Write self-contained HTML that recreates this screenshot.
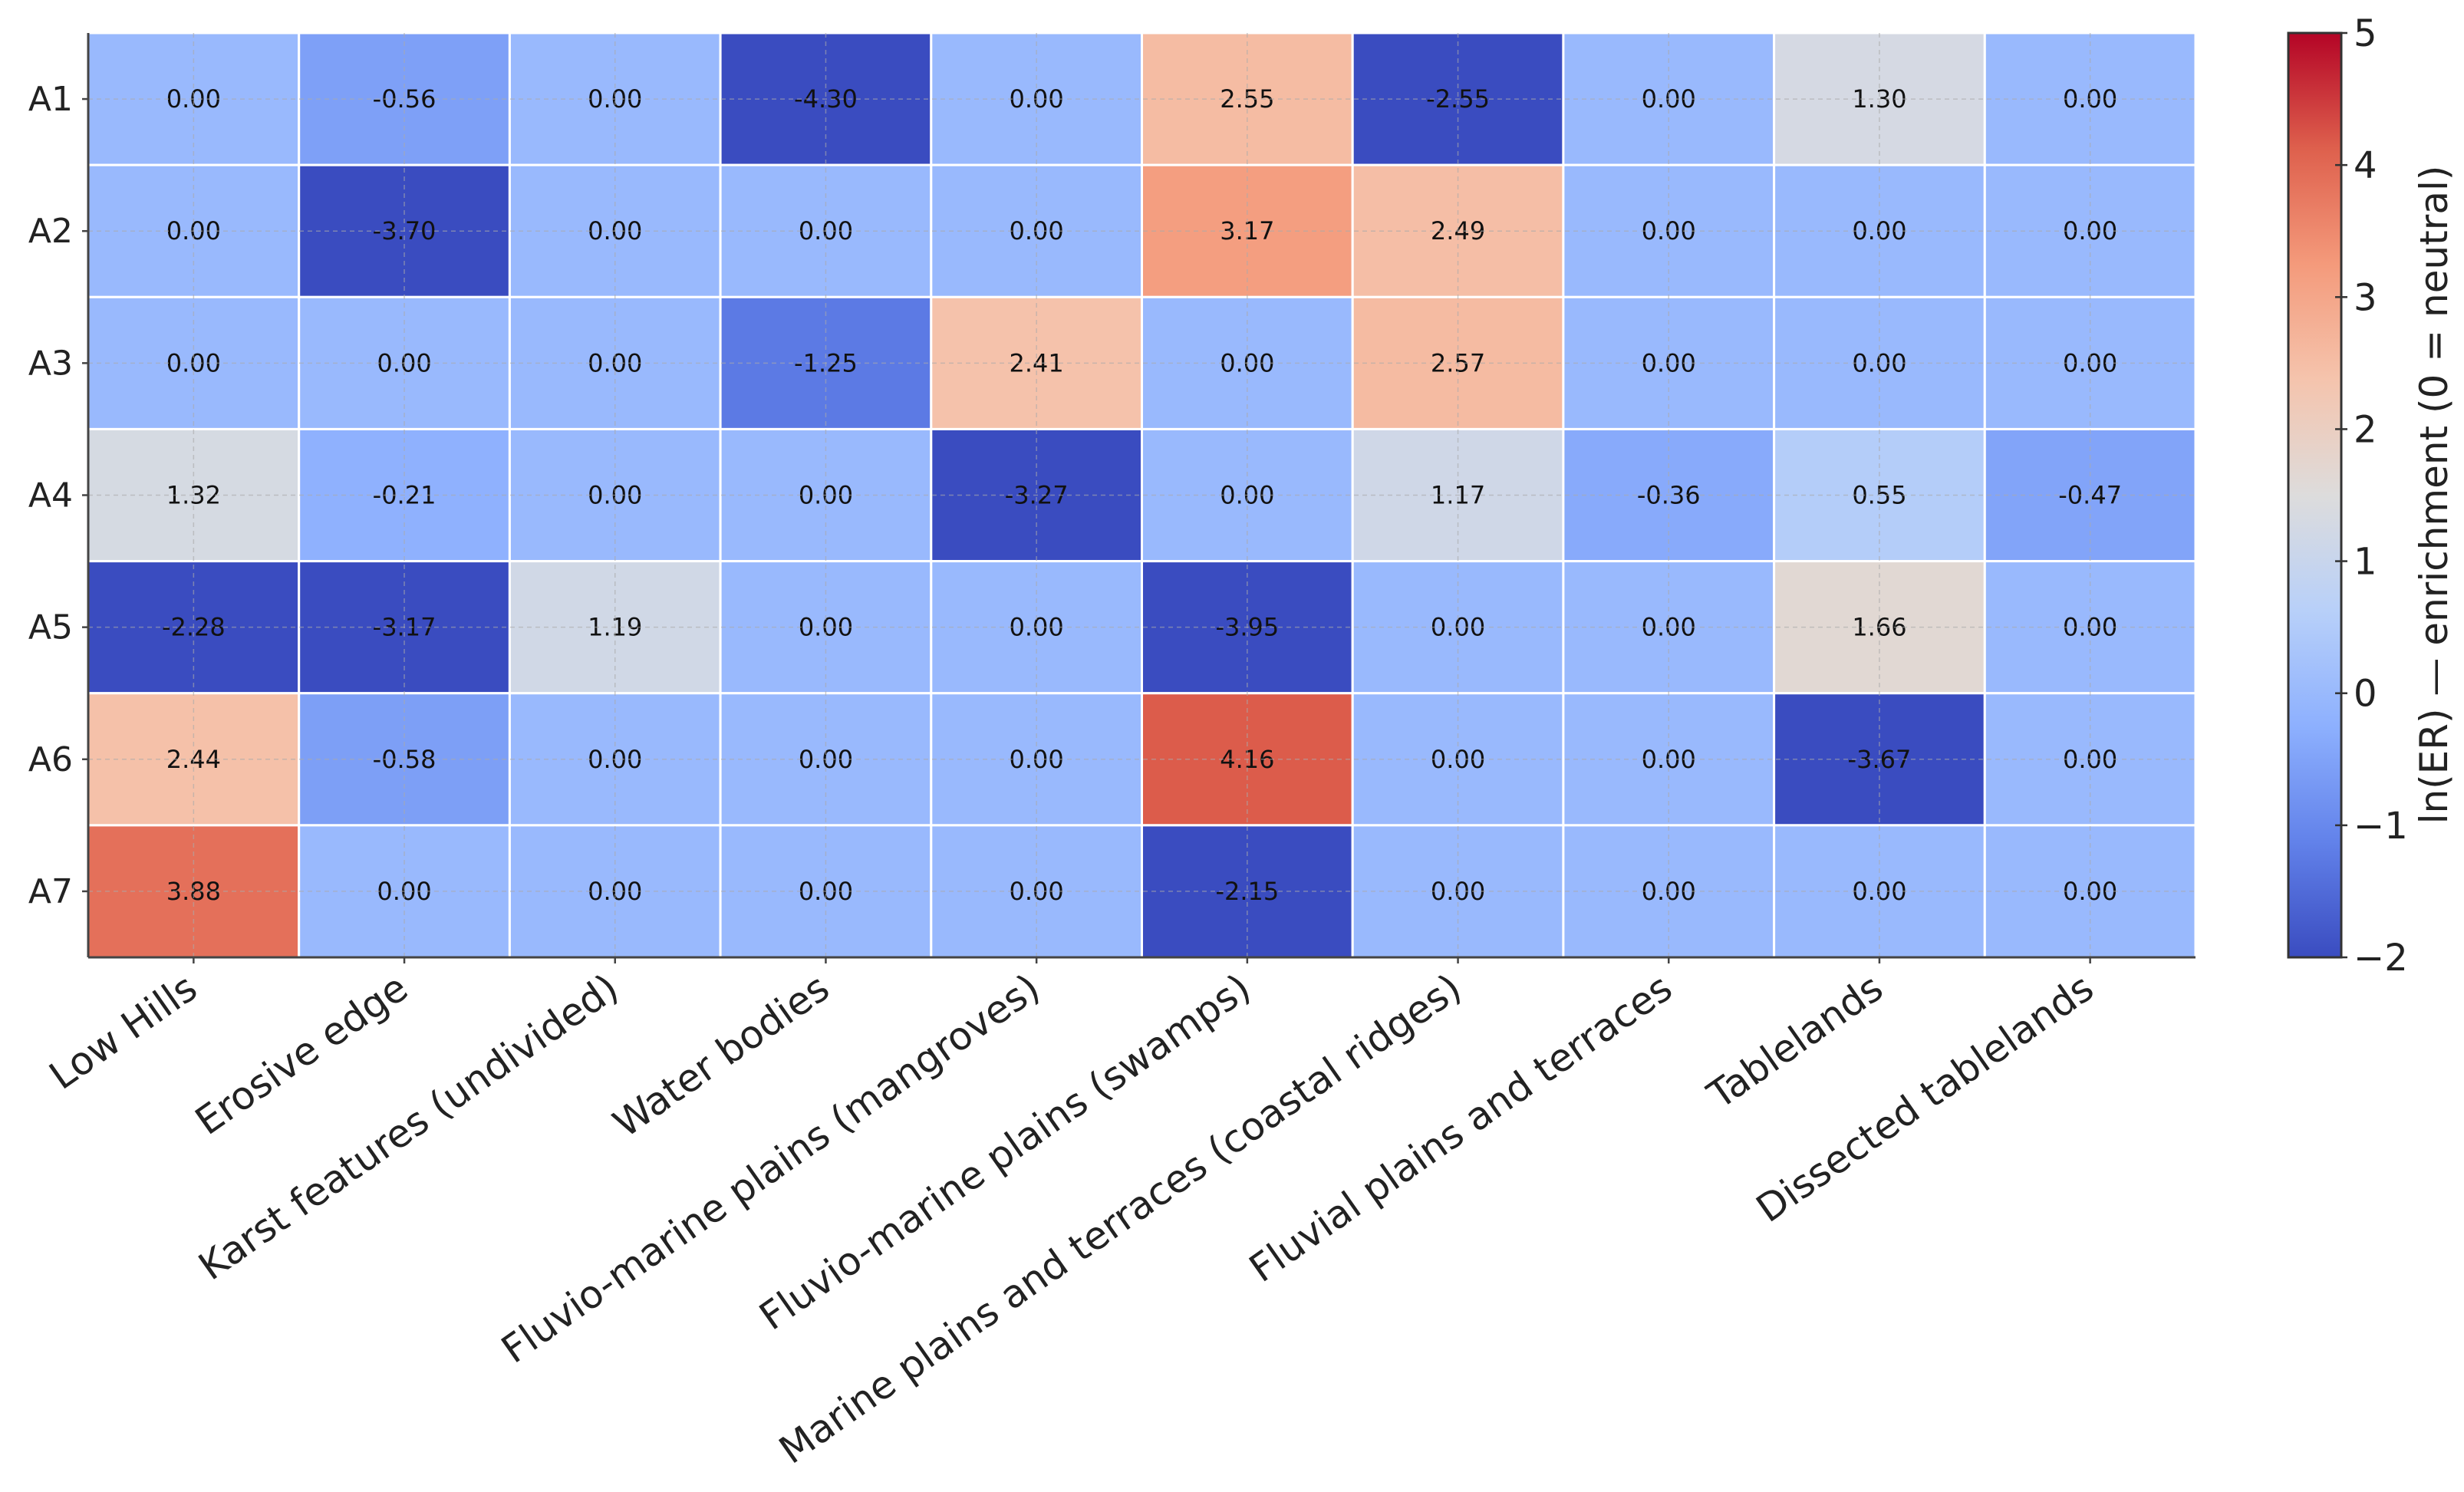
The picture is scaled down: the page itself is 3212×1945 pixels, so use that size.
<!DOCTYPE html>
<html><head><meta charset="utf-8"><style>
html,body{margin:0;padding:0;background:#fff;}
svg{display:block;font-family:"DejaVu Sans","Liberation Sans",sans-serif;}
</style></head><body>
<svg id="chart" width="3212" height="1945" viewBox="0 0 3212 1945" xmlns="http://www.w3.org/2000/svg">
<defs>
<linearGradient id="cbgrad" x1="0" y1="1" x2="0" y2="0">
<stop offset="0" stop-color="rgb(58,76,192)"/>
<stop offset="0.125" stop-color="rgb(98,130,234)"/>
<stop offset="0.25" stop-color="rgb(141,176,254)"/>
<stop offset="0.375" stop-color="rgb(184,208,249)"/>
<stop offset="0.5" stop-color="rgb(221,220,220)"/>
<stop offset="0.625" stop-color="rgb(245,196,173)"/>
<stop offset="0.75" stop-color="rgb(244,154,123)"/>
<stop offset="0.875" stop-color="rgb(222,96,77)"/>
<stop offset="1" stop-color="rgb(180,4,38)"/>
</linearGradient>
</defs>
<g id="cells"></g>
<g id="grid"></g>
<g id="axes"></g>
<g id="cbar"></g>
</svg>
<script>
const rowLabels = ["A1","A2","A3","A4","A5","A6","A7"];
const colLabels = ["Low Hills","Erosive edge","Karst features (undivided)","Water bodies","Fluvio-marine plains (mangroves)","Fluvio-marine plains (swamps)","Marine plains and terraces (coastal ridges)","Fluvial plains and terraces","Tablelands","Dissected tablelands"];
const rowA1 = [0.00,-0.56,0.00,-4.30,0.00,2.55,-2.55,0.00,1.30,0.00];
const rowA2 = [0.00,-3.70,0.00,0.00,0.00,3.17,2.49,0.00,0.00,0.00];
const rowA3 = [0.00,0.00,0.00,-1.25,2.41,0.00,2.57,0.00,0.00,0.00];
const rowA4 = [1.32,-0.21,0.00,0.00,-3.27,0.00,1.17,-0.36,0.55,-0.47];
const rowA5 = [-2.28,-3.17,1.19,0.00,0.00,-3.95,0.00,0.00,1.66,0.00];
const rowA6 = [2.44,-0.58,0.00,0.00,0.00,4.16,0.00,0.00,-3.67,0.00];
const rowA7 = [3.88,0.00,0.00,0.00,0.00,-2.15,0.00,0.00,0.00,0.00];
const cbTicks = [-2,-1,0,1,2,3,4,5];
const vmin = -2, vmax = 5;
const values = [rowA1,rowA2,rowA3,rowA4,rowA5,rowA6,rowA7];

const NS="http://www.w3.org/2000/svg";
const L=115,T=43,R=2862,B=1248;
const cw=(R-L)/colLabels.length, rh=(B-T)/rowLabels.length;
const xC=i=>L+cw*(i+0.5), yC=j=>T+rh*(j+0.5);
const stops=[[58,76,192],[98,130,234],[141,176,254],[184,208,249],[221,220,220],[245,196,173],[244,154,123],[222,96,77],[180,4,38]];
function cmap(v){let t=(v-vmin)/(vmax-vmin);t=Math.max(0,Math.min(1,t));const p=t*8,i=Math.min(7,Math.floor(p)),f=p-i;const a=stops[i],b=stops[i+1];return `rgb(${a.map((c,k)=>Math.round(c+(b[k]-c)*f)).join(',')})`;}
function mk(tag,attrs,parent,text){const e=document.createElementNS(NS,tag);for(const k in attrs)e.setAttribute(k,attrs[k]);if(text!==undefined)e.textContent=text;parent.appendChild(e);return e;}
const cells=document.getElementById('cells'),grid=document.getElementById('grid'),axes=document.getElementById('axes'),cbar=document.getElementById('cbar');
values.forEach((row,j)=>row.forEach((v,i)=>{
  const r=mk('rect',{x:L+cw*i,y:T+rh*j,width:cw,height:rh,fill:cmap(v),stroke:'#fff','stroke-width':3},cells);
  
  
}));
colLabels.forEach((c,i)=>{const l=mk('line',{x1:xC(i),y1:T,x2:xC(i),y2:B,stroke:'#aaa','stroke-width':1.5,'stroke-dasharray':'6 5',opacity:0.6},grid);
  
  });
rowLabels.forEach((r,j)=>{const l=mk('line',{x1:L,y1:yC(j),x2:R,y2:yC(j),stroke:'#aaa','stroke-width':1.5,'stroke-dasharray':'6 5',opacity:0.6},grid);
  
  });
values.forEach((row,j)=>row.forEach((v,i)=>{
  const t=mk('text',{x:xC(i),y:yC(j)+11,'text-anchor':'middle','font-size':32,fill:'#111'},cells,v.toFixed(2));
  
  
}));
mk('line',{x1:L,y1:T,x2:L,y2:B,stroke:'#444','stroke-width':3},axes);
mk('line',{x1:L,y1:B,x2:R,y2:B,stroke:'#444','stroke-width':3},axes);
rowLabels.forEach((r,j)=>{
  mk('line',{x1:L-8,y1:yC(j),x2:L,y2:yC(j),stroke:'#444','stroke-width':2.5},axes);
  const t=mk('text',{x:L-20,y:yC(j)+15,'text-anchor':'end','font-size':44,fill:'#222'},axes,r);
  
  
});
colLabels.forEach((c,i)=>{
  mk('line',{x1:xC(i),y1:B,x2:xC(i),y2:B+8,stroke:'#444','stroke-width':2.5},axes);
  const x=xC(i)+8,y=B+48;
  const t=mk('text',{x:x,y:y,'text-anchor':'end','font-size':50,fill:'#222',transform:`rotate(-35 ${x} ${y})`},axes,c);
  
  
});
const CL=2983,CR=3052,CT=43,CB=1248;
const cy=v=>CB-(v-vmin)/(vmax-vmin)*(CB-CT);
mk('rect',{x:CL,y:CT,width:CR-CL,height:CB-CT,fill:'url(#cbgrad)',stroke:'#333','stroke-width':3},cbar);
cbTicks.forEach(v=>{
  mk('line',{x1:CR-8,y1:cy(v),x2:CR+8,y2:cy(v),stroke:'#333','stroke-width':2.5},cbar);
  const t=mk('text',{x:CR+16,y:cy(v)+17,'font-size':48,fill:'#222'},cbar,v<0?'\u2212'+Math.abs(v):String(v));
  
  
});
const cyc=645;
const ct=mk('text',{x:3190,y:cyc,'text-anchor':'middle','font-size':50,fill:'#222',transform:`rotate(-90 3190 ${cyc})`},cbar,'ln(ER) — enrichment (0 = neutral)');


</script>
</body></html>
